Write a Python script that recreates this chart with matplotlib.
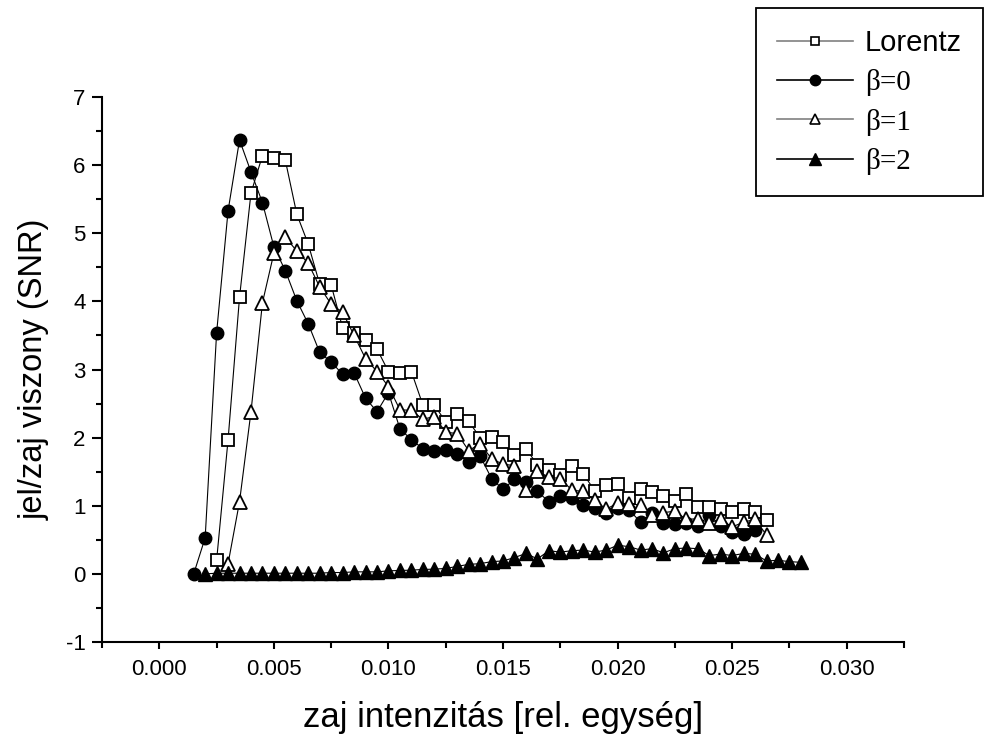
import matplotlib
matplotlib.use('Agg')
import matplotlib.pyplot as plt
from matplotlib.lines import Line2D
from matplotlib.ticker import MultipleLocator, FormatStrFormatter

# noise intensity grid (rel. units)
x_vals = [0.0015, 0.0020, 0.0025, 0.0030, 0.0035, 0.0040, 0.0045, 0.0050, 0.0055, 0.0060,
          0.0065, 0.0070, 0.0075, 0.0080, 0.0085, 0.0090, 0.0095, 0.0100, 0.0105, 0.0110,
          0.0115, 0.0120, 0.0125, 0.0130, 0.0135, 0.0140, 0.0145, 0.0150, 0.0155, 0.0160,
          0.0165, 0.0170, 0.0175, 0.0180, 0.0185, 0.0190, 0.0195, 0.0200, 0.0205, 0.0210,
          0.0215, 0.0220, 0.0225, 0.0230, 0.0235, 0.0240, 0.0245, 0.0250, 0.0255, 0.0260,
          0.0265, 0.0270, 0.0275, 0.0280]

# SNR values
lorentz = [0.20, 1.97, 4.06, 5.59, 6.14, 6.11, 6.07, 5.28, 4.84, 4.25,
           4.24, 3.61, 3.53, 3.44, 3.30, 2.97, 2.95, 2.97, 2.48, 2.48,
           2.23, 2.34, 2.24, 2.00, 2.01, 1.93, 1.74, 1.84, 1.60, 1.53,
           1.45, 1.58, 1.47, 1.22, 1.31, 1.32, 1.11, 1.24, 1.20, 1.15,
           1.07, 1.18, 0.98, 0.98, 0.95, 0.91, 0.95, 0.91, 0.79]
beta0 = [0.00, 0.53, 3.54, 5.33, 6.37, 5.90, 5.45, 4.80, 4.45, 4.01,
         3.67, 3.25, 3.11, 2.93, 2.95, 2.58, 2.38, 2.66, 2.13, 1.97,
         1.84, 1.81, 1.82, 1.76, 1.64, 1.73, 1.40, 1.24, 1.39, 1.35,
         1.21, 1.06, 1.14, 1.12, 1.01, 0.96, 0.90, 0.96, 0.94, 0.76,
         0.89, 0.75, 0.73, 0.75, 0.71, 0.86, 0.71, 0.62, 0.59, 0.64]
beta1 = [0.15, 1.06, 2.38, 3.98, 4.71, 4.94, 4.74, 4.56, 4.21, 3.96,
         3.84, 3.50, 3.16, 2.97, 2.75, 2.41, 2.40, 2.27, 2.31, 2.08,
         2.06, 1.81, 1.91, 1.69, 1.61, 1.59, 1.23, 1.51, 1.42, 1.40,
         1.23, 1.21, 1.08, 0.95, 1.04, 1.03, 1.01, 0.86, 0.90, 0.92,
         0.80, 0.81, 0.75, 0.80, 0.69, 0.76, 0.80, 0.57]
beta2 = [0.00, 0.01, 0.01, 0.01, 0.01, 0.01, 0.01, 0.01, 0.01, 0.01,
         0.01, 0.02, 0.02, 0.03, 0.03, 0.03, 0.045, 0.05, 0.055, 0.065,
         0.07, 0.08, 0.11, 0.14, 0.15, 0.18, 0.19, 0.24, 0.30, 0.22,
         0.34, 0.32, 0.34, 0.35, 0.32, 0.35, 0.42, 0.40, 0.35, 0.37,
         0.31, 0.37, 0.38, 0.37, 0.27, 0.29, 0.27, 0.30, 0.29, 0.19,
         0.20, 0.18, 0.17]

plt.rcParams['font.family'] = 'Liberation Sans'
plt.rcParams['axes.unicode_minus'] = False

fig = plt.figure(figsize=(9.85, 7.35), dpi=100)
ax = fig.add_axes([0.1036, 0.1265, 0.8142, 0.7415])

ms = 8.5
ax.plot(x_vals[2:51], lorentz, '-', color='black', lw=0.8, marker='s', ms=ms - 0.5,
        mfc='white', mec='black', mew=1.3, zorder=3)
ax.plot(x_vals[3:51], beta1, '-', color='black', lw=0.8, marker='^', ms=ms + 1,
        mfc='white', mec='black', mew=1.3, zorder=4)
ax.plot(x_vals[0:50], beta0, '-', color='black', lw=0.8, marker='o', ms=ms + 0.5,
        mfc='black', mec='black', zorder=2)
ax.plot(x_vals[1:54], beta2, '-', color='black', lw=0.8, marker='^', ms=ms + 1,
        mfc='black', mec='black', zorder=5)

ax.set_xlim(-0.0025, 0.0325)
ax.set_ylim(-1, 7)
for s in ['top', 'right']:
    ax.spines[s].set_visible(False)
for s in ['left', 'bottom']:
    ax.spines[s].set_linewidth(1.5)

ax.xaxis.set_major_locator(MultipleLocator(0.005))
ax.xaxis.set_minor_locator(MultipleLocator(0.0025))
ax.xaxis.set_major_formatter(FormatStrFormatter('%.3f'))
ax.yaxis.set_major_locator(MultipleLocator(1))
ax.yaxis.set_minor_locator(MultipleLocator(0.5))
ax.tick_params(axis='x', which='major', length=5, width=1.5, labelsize=16, pad=7)
ax.tick_params(axis='x', which='minor', length=4, width=1.5)
ax.tick_params(axis='y', which='major', length=7, width=1.5, labelsize=16, pad=5)
ax.tick_params(axis='y', which='minor', length=4.5, width=1.5)

ax.set_xlabel('zaj intenzitás [rel. egység]', fontsize=25, labelpad=15)
ax.set_ylabel('jel/zaj viszony (SNR)', fontsize=23.5, labelpad=11)

handles = [
    Line2D([], [], color='gray', lw=1.2, marker='s', ms=6, mfc='white', mec='black', mew=1.2),
    Line2D([], [], color='black', lw=1.2, marker='o', ms=7.5, mfc='black', mec='black'),
    Line2D([], [], color='gray', lw=1.2, marker='^', ms=7, mfc='white', mec='black', mew=1.2),
    Line2D([], [], color='black', lw=1.2, marker='^', ms=8, mfc='black', mec='black'),
]
labels = ['Lorentz', 'β=0', 'β=1', 'β=2']
leg = fig.legend(handles, labels, loc='upper right', bbox_to_anchor=(0.998, 0.989),
                 fontsize=21, frameon=True, fancybox=False, framealpha=1,
                 edgecolor='black', handlelength=2.6, labelspacing=0.42,
                 borderpad=0.72, handletextpad=0.4, borderaxespad=0)
leg.get_frame().set_linewidth(1.3)
for t in leg.get_texts()[1:]:
    t.set_family('Liberation Serif')

fig.savefig('out.png', dpi=100)
